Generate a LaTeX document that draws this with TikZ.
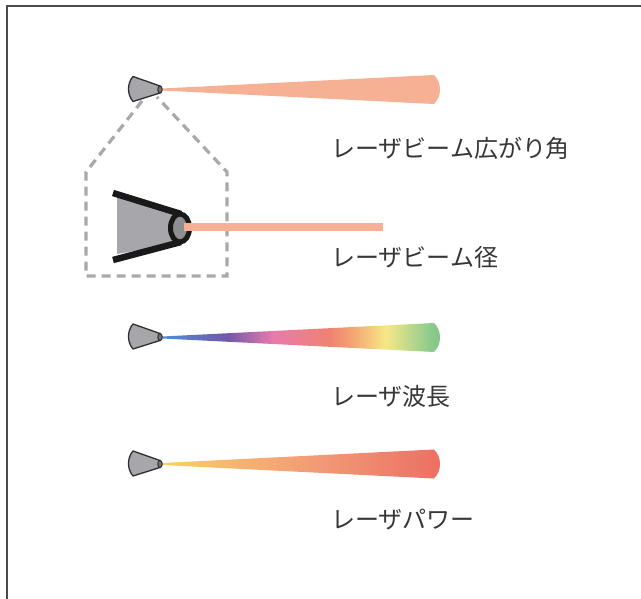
\documentclass[tikz,border=0pt]{standalone}
\usepackage{fontspec}
\newfontfamily\jpfont{Noto Sans CJK JP}
\usetikzlibrary{calc}

\definecolor{framegray}{HTML}{4A4A4A}
\definecolor{dashgray}{HTML}{A9A9A9}
\definecolor{headgray}{HTML}{A7A7AB}
\definecolor{headline}{HTML}{2E2E2E}
\definecolor{beamsalmon}{HTML}{F6B194}
\definecolor{labelgray}{HTML}{363636}

% spectrum stops
\definecolor{spA}{HTML}{4F8FD8}
\definecolor{spB}{HTML}{7058A8}
\definecolor{spC}{HTML}{E87AAE}
\definecolor{spD}{HTML}{F08272}
\definecolor{spE}{HTML}{F3A070}
\definecolor{spF}{HTML}{F6E888}
\definecolor{spG}{HTML}{8CCB8C}
\definecolor{spH}{HTML}{80C488}
% power stops
\definecolor{pwA}{HTML}{FBD45A}
\definecolor{pwB}{HTML}{F6B470}
\definecolor{pwC}{HTML}{F29A76}
\definecolor{pwD}{HTML}{EE806C}
\definecolor{pwE}{HTML}{EC7062}

% colour ramps along the beam (inner 25bp..75bp spans the beam)
\pgfdeclarehorizontalshading{spectrum}{100bp}{%
  color(0bp)=(spA); color(25bp)=(spA);
  color(36.6bp)=(spB); color(44.8bp)=(spC);
  color(55bp)=(spD); color(58.5bp)=(spE);
  color(65bp)=(spF); color(72.9bp)=(spG);
  color(75bp)=(spH); color(100bp)=(spH)}
\pgfdeclarehorizontalshading{power}{100bp}{%
  color(0bp)=(pwA); color(25bp)=(pwA);
  color(38bp)=(pwB); color(53bp)=(pwC);
  color(66bp)=(pwD); color(75bp)=(pwE);
  color(100bp)=(pwE)}

\tikzset{
  frameline/.style={draw=framegray, line width=2pt},
  guide/.style={draw=dashgray, line width=3.2pt, dash pattern=on 9pt off 6pt},
  label/.style={anchor=west, inner sep=0pt, text=labelgray,
    font=\jpfont\fontsize{24}{29}\selectfont},
  % small laser head, origin at its nose
  head/.pic={
    \draw[fill=headgray, draw=headline, line width=1.3pt, line join=round]
      (0,-3.5) -- (-27,-13) .. controls (-33,-6) and (-33,5) .. (-27,12)
      -- (0,3.5) -- cycle;
    \draw[fill=headgray!70!black, draw=headline, line width=1pt]
      (0,0) ellipse [x radius=2.2, y radius=3.6];
  },
  % tapering beam, origin at its start
  beam/.pic={
    \path[pic actions]
      (0,-1) -- (272,-14.5) .. controls (280,-7) and (280,7) .. (272,14.5)
      -- (0,1) -- cycle;
  }
}

\begin{document}
\begin{tikzpicture}[x=1pt, y=-1pt]
  \useasboundingbox (0,0) rectangle (641,599);
  \fill[white] (0,0) rectangle (641,599);

  % frame edges
  \draw[frameline] (642,6) -- (7,6) -- (7,600);

  % --- beam divergence angle ---
  \pic[fill=beamsalmon] at (162,89.5) {beam};
  \pic at (160,89.5) {head};
  \node[label] (angle) at (331,148) {レーザビーム広がり角};

  % --- enlarged view: beam diameter ---
  \coordinate (hl) at (142,101);
  \coordinate (hr) at (157,97);
  \coordinate (bl) at (86,172);
  \coordinate (br) at (227,172);
  \draw[guide] (hl) -- (bl) -- (86,276) -- (227,276) -- (br) -- (hr);
  \fill[headgray] (117,197) -- (180,213) -- (180,243) -- (117,254) -- cycle;
  \draw[black!90, line width=6.5pt] (113,193) -- (181,214);
  \draw[black!90, line width=6.5pt] (113,260) -- (181,242);
  \draw[black!90, fill=headgray!85!black, line width=5pt]
    (180,228) ellipse [x radius=9.5, y radius=14];
  \coordinate (barstart) at (184,227);
  \coordinate (barend) at (383,227);
  \draw[beamsalmon, line width=8pt] (barstart) -- (barend);
  \node[label] (diam) at (331,257) {レーザビーム径};

  % --- wavelength ---
  \pic[shading=spectrum] at (162,337.5) {beam};
  \pic at (160,337) {head};
  \node[label] (wave) at (331,396) {レーザ波長};

  % --- power ---
  \pic[shading=power] at (162,464) {beam};
  \pic at (160,464) {head};
  \node[label] (power) at (331,520) {レーザパワー};
\end{tikzpicture}
\end{document}
